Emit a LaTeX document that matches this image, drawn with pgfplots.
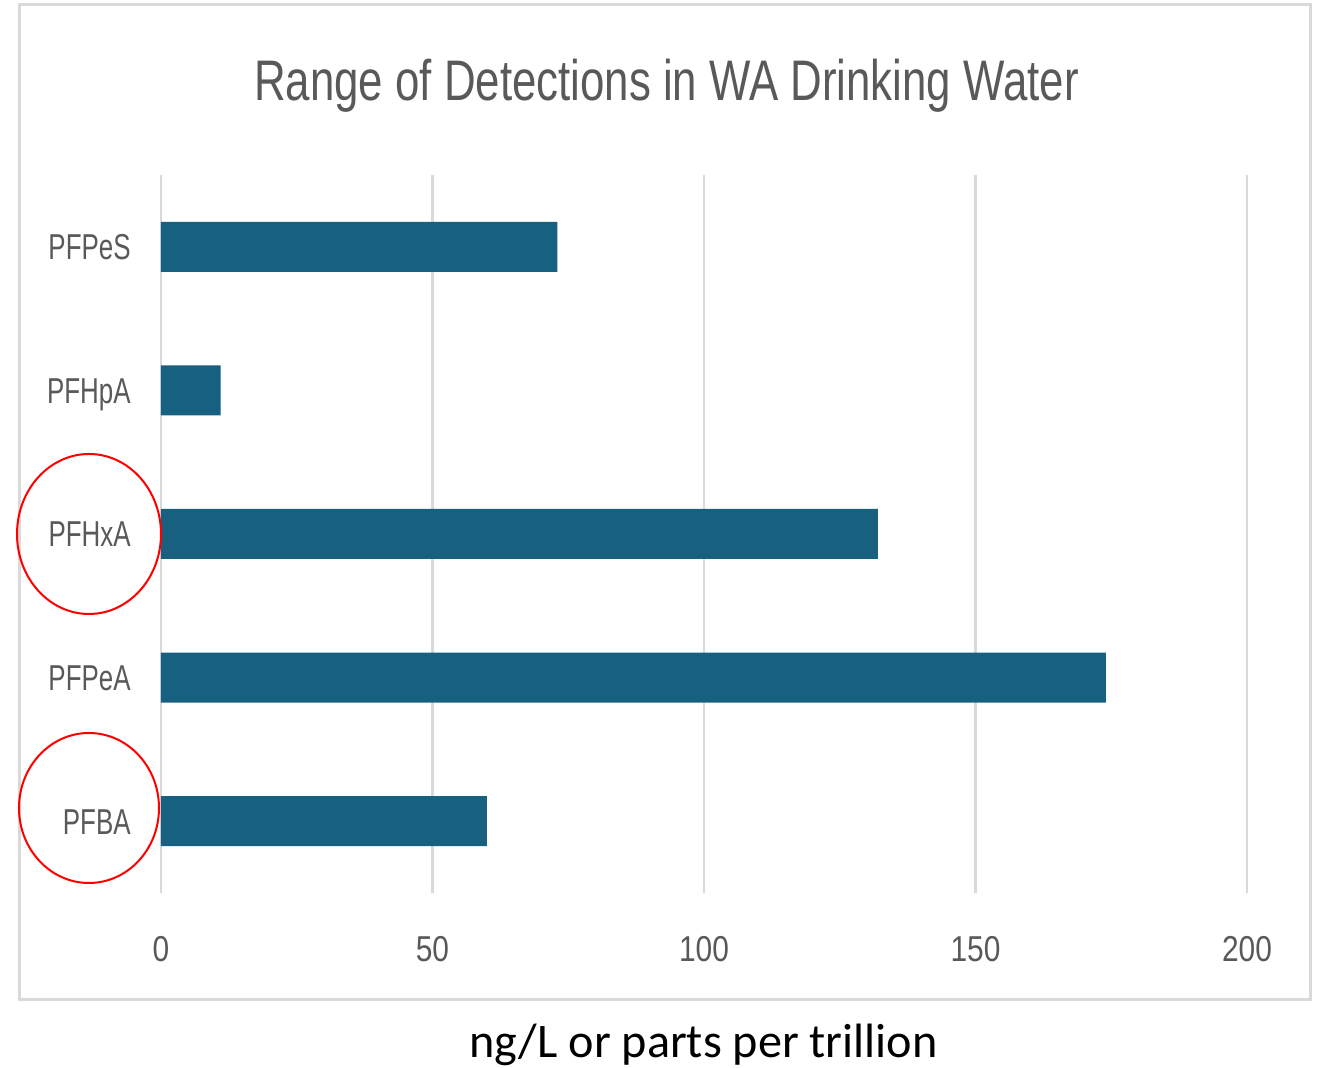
\documentclass[border=0pt]{standalone}
\usepackage{fontspec}
\usepackage{pgfplots}
\pgfplotsset{compat=1.18}
\setmainfont{Liberation Sans}
\newfontfamily\titlefont[FakeStretch=0.766]{Liberation Sans}
\newfontfamily\ylabfont[FakeStretch=0.72]{Liberation Sans}
\newfontfamily\xlabfont[FakeStretch=0.83]{Liberation Sans}
\newfontfamily\carlito{Carlito}
\definecolor{barblue}{HTML}{17607F}
\definecolor{gridgray}{HTML}{D9D9D9}
\definecolor{txtgray}{HTML}{595959}
\begin{document}
\begin{tikzpicture}
\useasboundingbox (0pt,0pt) rectangle (661pt,534pt);
\draw[gridgray, line width=1.5pt] (9.5pt,34pt) rectangle (655pt,531.5pt);
\begin{axis}[
  at={(80.5pt,87.5pt)}, anchor=south west,
  scale only axis, width=543pt, height=359pt,
  xmin=0, xmax=200, ymin=-0.5, ymax=4.5,
  xbar, bar width=25pt,
  ytick={0,1,2,3,4},
  yticklabels={PFBA,PFPeA,PFHxA,PFHpA,PFPeS},
  xtick={0,50,100,150,200},
  xmajorgrids, grid style={gridgray, line width=1.2pt},
  axis line style={draw=none},
  major tick length=0pt,
  /pgf/number format/assume math mode=true,
  yticklabel style={font=\ylabfont\fontsize{18}{20}\selectfont, text=txtgray, anchor=east, inner sep=0pt, text height=12.9pt, text depth=0pt, xshift=-15pt},
  xticklabel style={font=\xlabfont\fontsize{18}{20}\selectfont, text=txtgray, anchor=north, inner sep=0pt, text height=12.9pt, text depth=0pt, yshift=-21pt},
  clip=false,
]
\addplot[fill=barblue, draw=none] coordinates {(60,0) (174,1) (132,2) (11,3) (73,4)};
\end{axis}
\node[anchor=base, inner sep=0pt, text=txtgray, font=\titlefont\fontsize{28.6}{32}\selectfont] at (333.25pt,483.5pt) {Range of Detections in WA Drinking Water};
\node[anchor=base, inner sep=0pt, text=black, font=\carlito\fontsize{24.1}{26}\selectfont] at (351.75pt,5pt) {ng/L or parts per trillion};
\draw[red, line width=1pt] (44.5pt,267pt) ellipse [x radius=36pt, y radius=40pt];
\draw[red, line width=1pt] (44.5pt,130pt) ellipse [x radius=35pt, y radius=37.5pt];
\end{tikzpicture}
\end{document}
